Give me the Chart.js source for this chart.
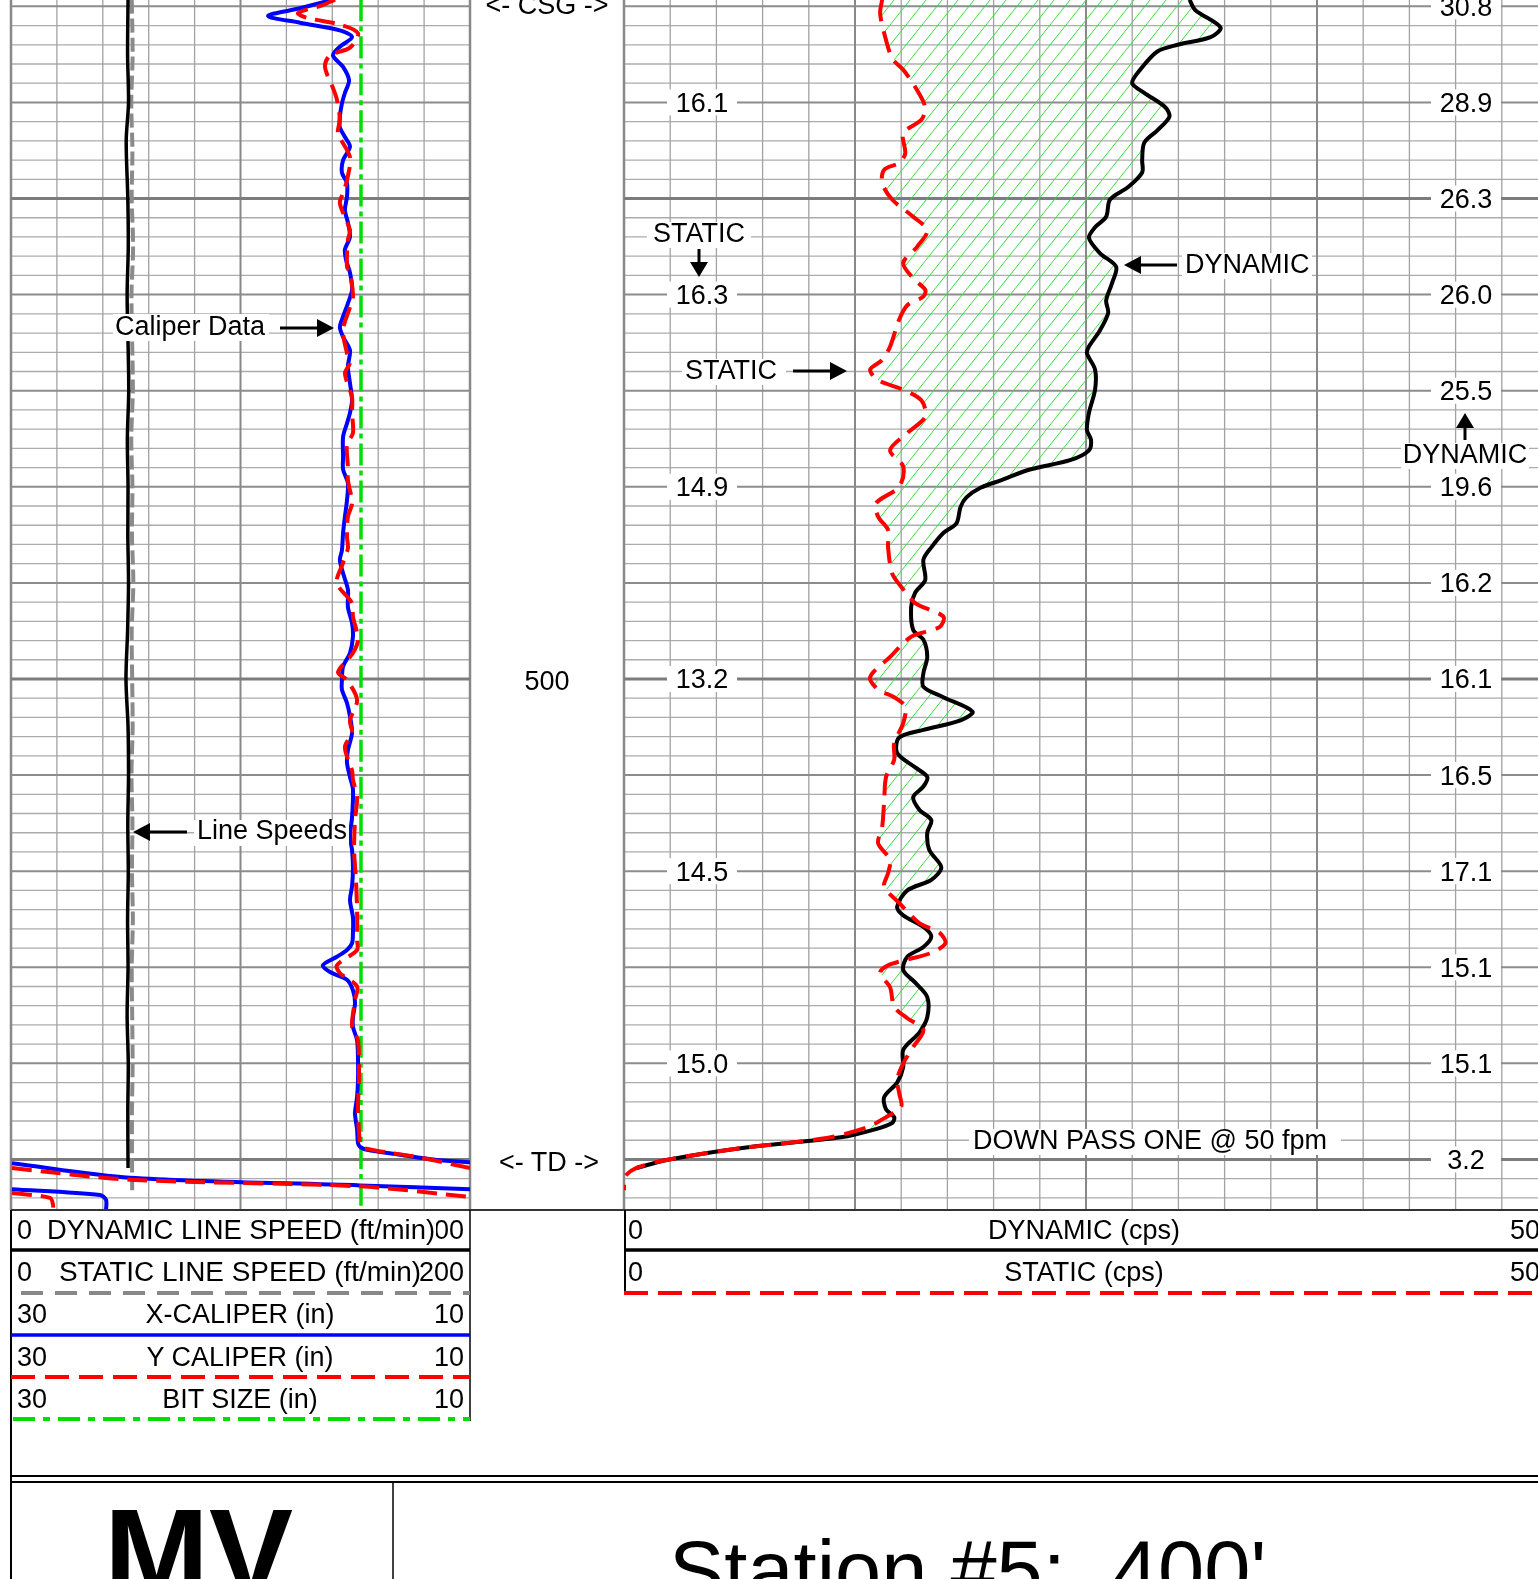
<!DOCTYPE html>
<html>
<head>
<meta charset="utf-8">
<script src="https://cdn.jsdelivr.net/npm/chart.js@4.4.1/dist/chart.umd.min.js"></script>
<style>
  html, body { margin: 0; padding: 0; background: #fff; }
  body { width: 1538px; height: 1579px; overflow: hidden; position: relative; }
  .track { position: absolute; top: 0; }
  #leftTrack { left: 9px; width: 463px; height: 1212px; }
  #rightTrack { left: 622px; width: 926px; height: 1212px; }
  #overlay { position: absolute; left: 0; top: 0; }
</style>
</head>
<body>
<div class="track" id="leftTrack"><canvas id="leftCanvas"></canvas></div>
<div class="track" id="rightTrack"><canvas id="rightCanvas"></canvas></div>

<svg id="overlay" width="1538" height="1579" font-family="Liberation Sans, Arial, sans-serif" font-size="27">
  <!-- annotations on the tracks -->
  <rect x="113" y="314" width="156" height="27" fill="#fff"/>
  <text x="115" y="335">Caliper Data</text>
  <line x1="280" y1="328" x2="320" y2="328" stroke="#000" stroke-width="3"/>
  <polygon points="317,319 334,328 317,337" fill="#000"/>

  <rect x="194" y="820" width="155" height="26" fill="#fff"/>
  <text x="197" y="839">Line Speeds</text>
  <line x1="146" y1="832" x2="187" y2="832" stroke="#000" stroke-width="3"/>
  <polygon points="150,823 133,832 150,841" fill="#000"/>

  <text x="547" y="14" text-anchor="middle">&lt;- CSG -&gt;</text>
  <text x="547" y="690" text-anchor="middle">500</text>
  <text x="549" y="1171" text-anchor="middle">&lt;- TD -&gt;</text>

  <rect x="647" y="222" width="104" height="26" fill="#fff"/>
  <text x="699" y="242" text-anchor="middle">STATIC</text>
  <line x1="699" y1="249" x2="699" y2="265" stroke="#000" stroke-width="3"/>
  <polygon points="690,262 699,277 708,262" fill="#000"/>

  <rect x="682" y="359" width="104" height="26" fill="#fff"/>
  <text x="685" y="379">STATIC</text>
  <line x1="793" y1="371" x2="832" y2="371" stroke="#000" stroke-width="3"/>
  <polygon points="830,362 847,371 830,380" fill="#000"/>

  <rect x="1182" y="253" width="130" height="26" fill="#fff"/>
  <text x="1185" y="273">DYNAMIC</text>
  <line x1="1138" y1="265" x2="1177" y2="265" stroke="#000" stroke-width="3"/>
  <polygon points="1141,256 1124,265 1141,274" fill="#000"/>

  <rect x="1401" y="443" width="128" height="26" fill="#fff"/>
  <text x="1465" y="463" text-anchor="middle">DYNAMIC</text>
  <line x1="1465" y1="425" x2="1465" y2="440" stroke="#000" stroke-width="3"/>
  <polygon points="1456,428 1465,413 1474,428" fill="#000"/>

  <rect x="969" y="1129" width="372" height="26" fill="#fff"/>
  <text x="973" y="1149">DOWN PASS ONE @ 50 fpm</text>

  <!-- frame -->
  <line x1="11" y1="1210" x2="1538" y2="1210" stroke="#333" stroke-width="2"/>
  <line x1="11" y1="1210" x2="11" y2="1579" stroke="#000" stroke-width="2"/>
  <line x1="470" y1="1210" x2="470" y2="1421" stroke="#000" stroke-width="1.5"/>
  <line x1="625" y1="1210" x2="625" y2="1295" stroke="#000" stroke-width="2"/>
  <line x1="11" y1="1476" x2="1538" y2="1476" stroke="#000" stroke-width="2"/>
  <line x1="11" y1="1482" x2="1538" y2="1482" stroke="#000" stroke-width="2"/>
  <line x1="393" y1="1482" x2="393" y2="1579" stroke="#000" stroke-width="1.5"/>

  <!-- left track headers -->
  <text x="17" y="1239">0</text>
  <text x="464" y="1239" text-anchor="end">200</text>
  <rect x="46" y="1217" width="390" height="27" fill="#fff"/>
  <text x="241" y="1239" text-anchor="middle" textLength="388" lengthAdjust="spacingAndGlyphs">DYNAMIC LINE SPEED (ft/min)</text>
  <line x1="11" y1="1250" x2="470" y2="1250" stroke="#000" stroke-width="3.5"/>

  <text x="17" y="1281">0</text>
  <text x="240" y="1281" text-anchor="middle" textLength="362" lengthAdjust="spacingAndGlyphs">STATIC LINE SPEED (ft/min)</text>
  <text x="464" y="1281" text-anchor="end">200</text>
  <line x1="13" y1="1293" x2="470" y2="1293" stroke="#888" stroke-width="4" stroke-dasharray="22,12" stroke-dashoffset="-8"/>

  <text x="17" y="1323">30</text>
  <text x="240" y="1323" text-anchor="middle">X-CALIPER (in)</text>
  <text x="464" y="1323" text-anchor="end">10</text>
  <line x1="11" y1="1335" x2="470" y2="1335" stroke="#0000ff" stroke-width="3.5"/>

  <text x="17" y="1366">30</text>
  <text x="240" y="1366" text-anchor="middle">Y CALIPER (in)</text>
  <text x="464" y="1366" text-anchor="end">10</text>
  <line x1="11" y1="1377" x2="470" y2="1377" stroke="#ff0000" stroke-width="4" stroke-dasharray="24,10"/>

  <text x="17" y="1408">30</text>
  <text x="240" y="1408" text-anchor="middle">BIT SIZE (in)</text>
  <text x="464" y="1408" text-anchor="end">10</text>
  <line x1="13" y1="1419" x2="470" y2="1419" stroke="#00dd00" stroke-width="4" stroke-dasharray="22,8,7,8"/>

  <!-- right track headers -->
  <text x="628" y="1239">0</text>
  <text x="1084" y="1239" text-anchor="middle">DYNAMIC (cps)</text>
  <text x="1540" y="1239" text-anchor="end">50</text>
  <line x1="624" y1="1250" x2="1544" y2="1250" stroke="#000" stroke-width="3.5"/>
  <text x="628" y="1281">0</text>
  <text x="1084" y="1281" text-anchor="middle">STATIC (cps)</text>
  <text x="1540" y="1281" text-anchor="end">50</text>
  <line x1="624" y1="1293" x2="1544" y2="1293" stroke="#ff0000" stroke-width="4" stroke-dasharray="24,10"/>

  <!-- footer -->
  <text x="104" y="1597" font-size="126" font-weight="bold">MV</text>
  <text x="669" y="1599" font-size="83" style="white-space:pre">Station #5:  400'</text>
</svg>

<script>
// depth window shown (ft) and grid depths
const depthTop = 429.34;
const depthBottom = 555.26;
const depthLines = [];
for (let d = 430; d <= 554; d += 2) depthLines.push(d);

// left track, [depth, value]
const dynLineSpeed = [[429.3,51.0],[435,50.8],[440,51.2],[444,50.2],[450,50.9],[455,51.1],[460,50.6],[465,51.0],[470,51.3],[475,50.7],[480,51.0],[485,50.9],[490,51.2],[495,50.8],[500,50.1],[505,51.0],[510,51.2],[515,50.9],[520,51.1],[525,50.8],[530,51.0],[535,50.6],[540,51.1],[545,50.9],[550.9,51.0]];
const staLineSpeed = [[429.3,52.6],[435,53.0],[440,52.4],[445,52.9],[450,52.6],[455,53.2],[460,52.5],[465,52.8],[470,53.1],[475,52.4],[480,52.9],[485,52.7],[490,53.3],[495,52.6],[500,52.8],[505,53.0],[510,52.5],[515,52.9],[520,52.7],[525,53.1],[530,52.6],[535,52.8],[540,53.0],[545,52.7],[553.2,52.8]];

const xCaliper = [[429.3,15.97],[430.2,17.41],[431.0,18.80],[431.7,17.41],[432.5,15.67],[433.2,15.14],[434.2,15.67],[435.1,15.97],[436.3,15.53],[437.7,15.27],[439.0,15.45],[440.1,15.58],[441.5,15.67],[442.6,15.67],[443.6,15.45],[444.6,15.23],[446.0,15.53],[447.3,15.58],[448.4,15.36],[449.8,15.36],[451.2,15.45],[452.5,15.32],[454.0,15.23],[455.3,15.45],[456.4,15.40],[457.7,15.23],[459.5,15.14],[460.9,15.32],[462.6,15.58],[463.4,15.67],[464.4,15.53],[465.8,15.23],[467.5,15.32],[469.2,15.23],[471.0,15.14],[472.3,15.23],[473.4,15.36],[474.8,15.53],[476.9,15.53],[478.2,15.53],[479.6,15.32],[481.4,15.36],[483.1,15.45],[484.8,15.53],[486.6,15.58],[487.6,15.67],[489.0,15.53],[490.7,15.32],[492.5,15.32],[494.2,15.14],[495.6,15.10],[497.3,15.23],[498.7,15.53],[500.1,15.58],[501.1,15.58],[502.5,15.36],[503.9,15.23],[505.6,15.14],[507.4,15.32],[508.7,15.36],[510.2,15.23],[511.5,15.10],[514.4,15.14],[516.4,15.23],[517.8,15.14],[519.6,15.10],[521.6,15.14],[523.0,15.23],[524.8,15.10],[526.4,15.10],[527.5,15.14],[528.2,15.36],[528.9,15.80],[529.8,16.41],[530.5,16.10],[531.3,15.36],[532.4,15.10],[533.7,15.01],[535.2,15.10],[536.2,15.10],[537.6,14.92],[539.6,14.88],[541.7,14.88],[543.5,14.92],[545.2,15.01],[546.9,14.92],[548.3,14.88],[548.7,14.79],[549.0,14.49],[549.5,13.05],[550.0,11.61],[550.3,10.0]];
const xCaliperWrap1 = [[550.4,29.96],[551.9,24.82],[552.7,14.79],[553.1,10.0]];
const xCaliperWrap2 = [[553.1,29.96],[553.7,26.12],[554.2,25.86],[555.3,25.86]];

const yCaliper = [[429.3,15.88],[429.9,16.45],[430.7,17.49],[431.2,17.10],[431.9,15.67],[432.8,14.88],[434.3,15.23],[435.1,16.10],[436.3,16.32],[438.5,15.97],[439.7,15.80],[441.8,15.67],[443.2,15.75],[445.7,15.23],[448.1,15.36],[449.4,15.53],[450.5,15.67],[453.3,15.23],[454.3,15.32],[457.1,15.36],[457.7,15.23],[460.2,15.10],[461.3,15.23],[463.7,15.53],[466.1,15.36],[467.1,15.23],[468.2,15.45],[470.7,15.14],[472.3,15.14],[474.4,15.10],[475.6,15.36],[477.9,15.32],[479.3,15.32],[481.7,15.14],[483.1,15.32],[485.2,15.36],[486.4,15.32],[487.9,15.53],[490.0,15.80],[492.1,15.14],[493.5,15.10],[495.9,14.88],[497.3,15.10],[499.3,15.75],[500.1,15.36],[502.2,14.92],[504.3,15.23],[505.6,15.14],[507.1,15.45],[509.5,15.14],[510.5,15.10],[512.3,14.92],[514.7,15.01],[517.8,15.05],[520.9,14.97],[524.0,14.92],[527.2,14.92],[528.2,14.92],[529.8,15.80],[530.6,15.67],[532.0,14.92],[533.4,15.01],[536.2,15.14],[537.6,14.88],[541.7,14.84],[544.8,14.88],[548.3,14.79],[548.8,14.66],[549.8,12.18],[550.9,10.0]];
const yCaliperWrap1 = [[550.9,29.96],[552.1,24.82],[552.8,14.79],[553.9,10.0]];
const yCaliperWrap2 = [[553.5,29.96],[554.0,28.30],[554.7,28.17],[555.3,28.17]];

const bitSize = [[429.3,14.75],[555.3,14.75]];

// right track, [depth, cps]
const dynamicCps = [[429.3,30.60],[430.4,30.92],[432.2,32.28],[433.2,31.74],[434.0,29.95],[434.7,28.86],[436.6,27.93],[438.0,27.50],[439.0,28.15],[440.5,29.29],[441.5,29.51],[442.9,28.86],[444.2,28.15],[446.0,28.04],[447.3,28.04],[448.8,27.28],[450.1,26.30],[451.9,26.09],[453.0,25.49],[454.1,25.16],[455.7,25.76],[457.1,26.63],[458.8,26.41],[460.6,26.09],[461.9,26.20],[463.7,25.76],[465.4,25.16],[466.1,25.05],[467.8,25.49],[469.9,25.49],[472.3,25.16],[474.1,25.05],[475.1,25.27],[476.2,25.16],[477.2,24.18],[478.2,21.96],[479.3,20.43],[480.1,19.29],[481.1,18.53],[482.1,18.21],[483.8,17.99],[484.8,17.28],[486.3,16.63],[487.6,16.20],[489.7,16.30],[491.0,15.76],[492.5,15.54],[494.9,15.65],[495.9,16.20],[497.7,16.41],[499.4,16.20],[500.8,16.20],[501.9,17.28],[503.4,18.86],[504.3,18.21],[505.3,16.20],[506.1,14.89],[507.7,14.78],[509.2,15.76],[510.2,16.41],[511.2,16.20],[512.3,15.65],[513.6,15.98],[514.7,16.63],[516.0,16.41],[517.8,16.52],[519.6,17.17],[520.9,16.63],[522.0,15.33],[523.7,14.78],[524.6,15.11],[525.8,16.20],[526.8,16.63],[527.9,16.20],[528.9,15.33],[530.3,15.11],[531.6,15.76],[533.1,16.41],[535.2,16.41],[536.8,15.98],[538.6,15.11],[540.4,15.11],[542.0,14.78],[543.5,14.08],[544.8,14.18],[545.6,14.62],[546.2,14.51],[546.9,13.53],[547.7,11.74],[548.8,6.41],[550.0,2.45],[550.9,0.65]];
const staticCps = [[429.3,13.97],[430.7,13.86],[432.8,14.08],[435.4,14.51],[436.6,15.11],[438.4,15.76],[440.5,16.30],[441.8,16.09],[443.2,15.11],[445.3,15.22],[446.3,14.89],[447.0,14.08],[448.4,13.97],[450.1,14.51],[451.9,15.65],[453.3,16.41],[455.0,15.87],[456.7,15.11],[458.3,15.65],[459.5,16.30],[460.2,16.20],[461.1,15.33],[462.6,14.89],[465.4,14.40],[466.8,13.97],[467.8,13.32],[468.9,13.75],[469.9,15.11],[471.0,16.09],[472.7,16.30],[474.4,15.33],[476.2,14.40],[477.9,15.11],[480.0,14.89],[481.7,13.64],[483.1,13.75],[484.5,14.29],[486.3,14.29],[489.0,14.51],[490.4,15.00],[492.1,15.76],[493.5,17.28],[494.6,17.07],[495.6,15.54],[497.7,14.40],[499.8,13.32],[501.1,13.75],[501.9,14.62],[502.9,15.22],[504.6,15.11],[506.7,14.62],[508.4,14.62],[510.2,14.18],[512.6,14.08],[515.4,13.97],[517.1,13.75],[518.8,14.40],[520.2,14.29],[521.6,14.08],[523.3,14.89],[525.4,15.98],[526.4,17.07],[527.5,17.39],[528.5,16.63],[529.2,15.33],[529.8,14.29],[530.6,13.86],[532.1,14.40],[534.1,14.62],[535.3,15.33],[536.5,16.20],[538.3,15.65],[540.0,15.11],[541.7,14.78],[543.1,14.89],[544.5,15.00],[545.6,14.18],[546.7,13.10],[547.8,10.87],[548.8,6.41],[550.0,2.45],[550.9,0.65],[551.9,0],[553.2,0]];

// 10 ft average labels printed in the right track
const staticAvgDepth = [440, 460, 480, 500, 520, 540];
const staticAvg = ['16.1', '16.3', '14.9', '13.2', '14.5', '15.0'];
const dynamicAvgDepth = [430, 440, 450, 460, 470, 480, 490, 500, 510, 520, 530, 540, 550];
const dynamicAvg = ['30.8', '28.9', '26.3', '26.0', '25.5', '19.6', '16.2', '16.1', '16.5', '17.1', '15.1', '15.1', '3.2'];

// grid columns
const caliperGrid = [30, 28, 26, 24, 22, 20, 18, 16, 14, 12, 10];
const cpsGrid = [];
for (let v = 0; v <= 50; v += 2.5) cpsGrid.push(v);

const pts = arr => arr.map(p => ({ x: p[1], y: p[0] }));

function gridPlugin(xId, cols, isDark) {
  return {
    id: 'grid',
    beforeDatasetsDraw(chart) {
      const { ctx, chartArea: a, scales } = chart;
      const xs = scales[xId], ys = scales.y;
      const hline = (d, w, c) => {
        const p = ys.getPixelForValue(d);
        ctx.strokeStyle = c; ctx.lineWidth = w;
        ctx.beginPath(); ctx.moveTo(a.left, p); ctx.lineTo(a.right, p); ctx.stroke();
      };
      ctx.save();
      depthLines.forEach(d => { if (d % 10) hline(d, 1.3, '#acacac'); });
      cols.forEach((v, i) => {
        const p = xs.getPixelForValue(v);
        const edge = i === 0 || i === cols.length - 1;
        ctx.strokeStyle = edge || isDark(v) ? '#888' : '#a2a2a2';
        ctx.lineWidth = edge ? 2.5 : isDark(v) ? 2 : 1.3;
        ctx.beginPath(); ctx.moveTo(p, a.top); ctx.lineTo(p, a.bottom); ctx.stroke();
      });
      depthLines.forEach(d => {
        if (d % 50 === 0) hline(d, 3, '#7c7c7c');
        else if (d % 10 === 0) hline(d, 2, '#8c8c8c');
      });
      ctx.restore();
    }
  };
}

// green hatch where DYNAMIC is right of STATIC
const hatchPlugin = {
  id: 'hatch',
  beforeDatasetsDraw(chart) {
    const { ctx, chartArea: a, scales: { x, y } } = chart;
    const tile = document.createElement('canvas');
    tile.width = 16; tile.height = 20;
    const g = tile.getContext('2d');
    g.strokeStyle = '#3cdc3c'; g.lineWidth = 1;
    [-16, 0, 16].forEach(o => { g.beginPath(); g.moveTo(o, 20); g.lineTo(o + 16, 0); g.stroke(); });
    ctx.save();
    ctx.beginPath(); ctx.rect(a.left, a.top, a.width, a.height); ctx.clip();
    ctx.beginPath();
    ctx.moveTo(a.right, y.getPixelForValue(staticCps[0][0]));
    staticCps.forEach(p => ctx.lineTo(x.getPixelForValue(p[1]), y.getPixelForValue(p[0])));
    ctx.lineTo(a.right, y.getPixelForValue(staticCps[staticCps.length - 1][0]));
    ctx.closePath(); ctx.clip();
    ctx.beginPath();
    ctx.moveTo(a.left, y.getPixelForValue(dynamicCps[0][0]));
    dynamicCps.forEach(p => ctx.lineTo(x.getPixelForValue(p[1]), y.getPixelForValue(p[0])));
    ctx.lineTo(a.left, y.getPixelForValue(dynamicCps[dynamicCps.length - 1][0]));
    ctx.closePath();
    ctx.fillStyle = ctx.createPattern(tile, 'repeat');
    ctx.fill();
    ctx.restore();
  }
};

const avgLabels = {
  id: 'avgLabels',
  afterDatasetsDraw(chart) {
    const { ctx, chartArea: a, scales: { y } } = chart;
    ctx.save();
    ctx.font = '27px "Liberation Sans", Arial, sans-serif';
    ctx.textAlign = 'center';
    const put = (cx, d, txt) => {
      const py = y.getPixelForValue(d);
      ctx.fillStyle = '#fff';
      ctx.fillRect(cx - 35, py - 13, 70, 26);
      ctx.fillStyle = '#000';
      ctx.fillText(txt, cx, py + 9.5);
    };
    staticAvgDepth.forEach((d, i) => put(a.left + 78, d, staticAvg[i]));
    dynamicAvgDepth.forEach((d, i) => put(a.left + 842, d, dynamicAvg[i]));
    ctx.restore();
  }
};

const baseOptions = (scales, padRight) => ({
  responsive: true,
  maintainAspectRatio: false,
  animation: false,
  events: [],
  layout: { padding: { left: 2, right: padRight, top: 0, bottom: 2 } },
  elements: { point: { radius: 0 }, line: { tension: 0.3, borderCapStyle: 'butt', borderJoinStyle: 'round' } },
  scales: scales,
  plugins: { legend: { display: false }, tooltip: { enabled: false } }
});

const yScale = { type: 'linear', min: depthTop, max: depthBottom, reverse: true, display: false };

new Chart(document.getElementById('leftCanvas'), {
  type: 'scatter',
  data: {
    datasets: [
      { data: pts(yCaliper), xAxisID: 'x', showLine: true, borderColor: '#ff0000', borderWidth: 4, borderDash: [20, 9] },
      { data: pts(yCaliperWrap1), xAxisID: 'x', showLine: true, borderColor: '#ff0000', borderWidth: 4, borderDash: [20, 9] },
      { data: pts(yCaliperWrap2), xAxisID: 'x', showLine: true, borderColor: '#ff0000', borderWidth: 4, borderDash: [20, 9] },
      { data: pts(xCaliper), xAxisID: 'x', showLine: true, borderColor: '#0000ff', borderWidth: 4 },
      { data: pts(xCaliperWrap1), xAxisID: 'x', showLine: true, borderColor: '#0000ff', borderWidth: 4 },
      { data: pts(xCaliperWrap2), xAxisID: 'x', showLine: true, borderColor: '#0000ff', borderWidth: 4 },
      { data: pts(bitSize), xAxisID: 'x', showLine: true, borderColor: '#00dd00', borderWidth: 3.5, borderDash: [22, 5, 5, 5] },
      { data: pts(dynLineSpeed), xAxisID: 'spd', showLine: true, borderColor: '#000000', borderWidth: 3.5 },
      { data: pts(staLineSpeed), xAxisID: 'spd', showLine: true, borderColor: '#8a8a8a', borderWidth: 4, borderDash: [14, 5] }
    ]
  },
  options: baseOptions({
    y: yScale,
    x: { type: 'linear', position: 'bottom', min: 10, max: 30, reverse: true, display: false },
    spd: { type: 'linear', axis: 'x', position: 'bottom', min: 0, max: 200, display: false }
  }, 2),
  plugins: [gridPlugin('x', caliperGrid, v => v === 20)]
});

new Chart(document.getElementById('rightCanvas'), {
  type: 'scatter',
  data: {
    datasets: [
      { data: pts(staticCps), showLine: true, borderColor: '#ff0000', borderWidth: 4, borderDash: [22, 10] },
      { data: pts(dynamicCps), showLine: true, borderColor: '#000000', borderWidth: 4 }
    ]
  },
  options: baseOptions({
    y: yScale,
    x: { type: 'linear', position: 'bottom', min: 0, max: 50, display: false }
  }, 0),
  plugins: [gridPlugin('x', cpsGrid, v => v % 12.5 === 0), hatchPlugin, avgLabels]
});
</script>
</body>
</html>
